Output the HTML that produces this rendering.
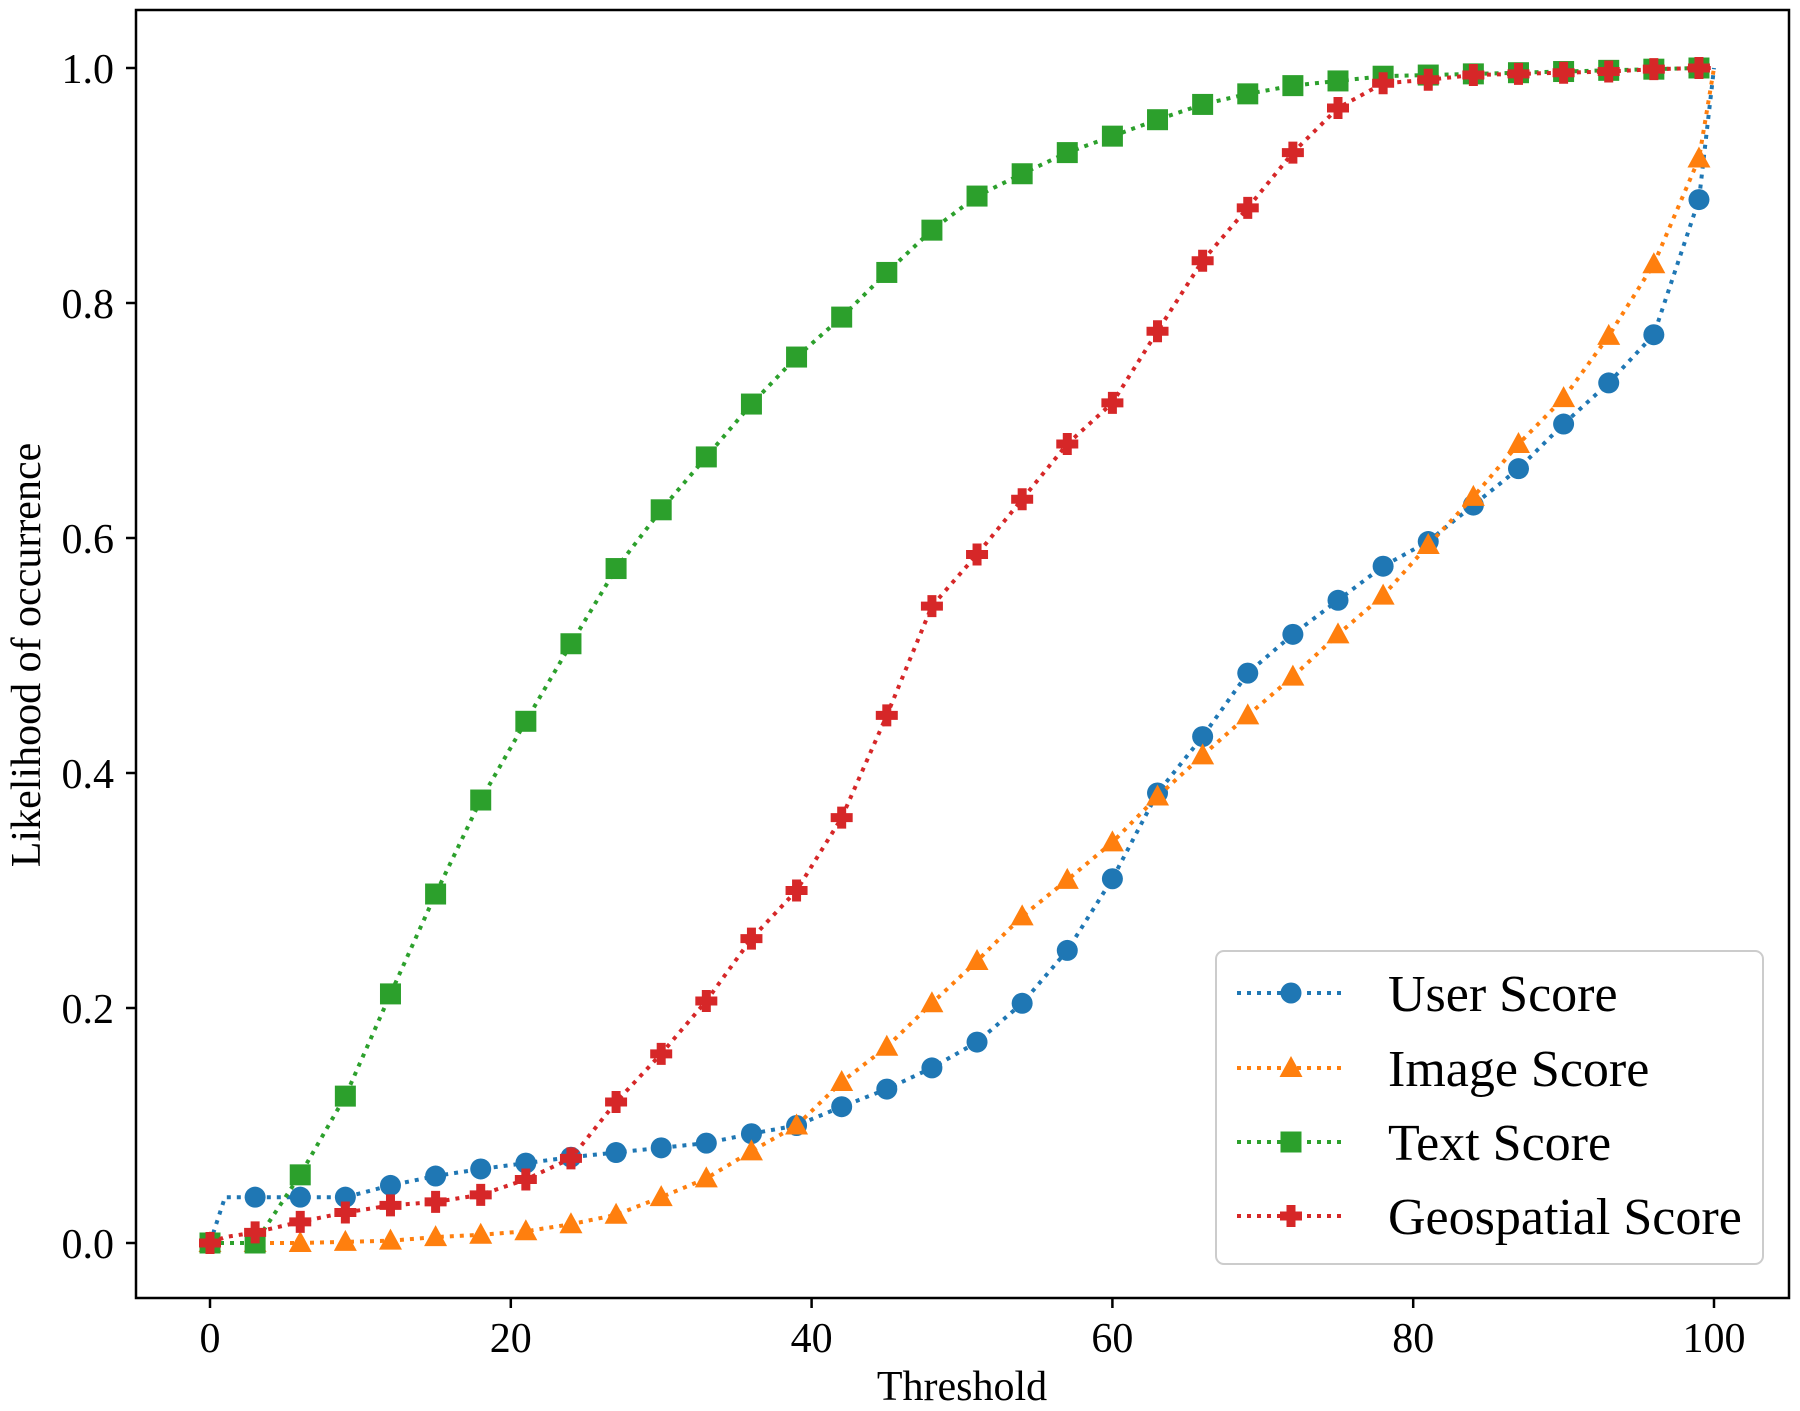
<!DOCTYPE html>
<html><head><meta charset="utf-8"><style>
html,body{margin:0;padding:0;background:#fff;}
svg{display:block;font-family:"Liberation Serif","DejaVu Serif",serif;}
</style></head><body>
<svg id="chart" width="1800" height="1411" viewBox="0 0 1800 1411" xmlns="http://www.w3.org/2000/svg">
<rect x="0" y="0" width="1800" height="1411" fill="#fff"/>
<g id="series"></g>
<rect x="136" y="10" width="1653" height="1288" fill="none" stroke="#000" stroke-width="2.5"/>
<g id="axes"></g>
<text x="962" y="1400" font-size="42" text-anchor="middle">Threshold</text>
<text transform="translate(40,655) rotate(-90)" font-size="42" text-anchor="middle">Likelihood of occurrence</text>
<g id="legend"></g>
</svg>
<script>
const thresholds=[0,1,3,6,9,12,15,18,21,24,27,30,33,36,39,42,45,48,51,54,57,60,63,66,69,72,75,78,81,84,87,90,93,96,99,100];
const userScore=[0,0.039,0.039,0.039,0.039,0.049,0.057,0.063,0.068,0.073,0.077,0.081,0.085,0.093,0.100,0.116,0.131,0.149,0.171,0.204,0.249,0.310,0.383,0.431,0.485,0.518,0.547,0.576,0.597,0.628,0.659,0.697,0.732,0.773,0.888,1.0];
const imageScore=[0,0,0,0,0.001,0.002,0.005,0.007,0.010,0.016,0.024,0.039,0.055,0.078,0.100,0.137,0.167,0.204,0.240,0.278,0.309,0.341,0.380,0.415,0.449,0.482,0.518,0.551,0.594,0.635,0.680,0.719,0.772,0.833,0.923,1.0];
const textScore=[0,0,0,0.058,0.125,0.212,0.297,0.377,0.444,0.510,0.574,0.624,0.669,0.714,0.754,0.788,0.826,0.862,0.891,0.910,0.928,0.942,0.956,0.969,0.978,0.985,0.989,0.993,0.994,0.995,0.996,0.997,0.998,0.999,1.0,1.0];
const geoScore=[0,0.005,0.009,0.018,0.026,0.032,0.035,0.041,0.054,0.072,0.120,0.161,0.206,0.259,0.300,0.362,0.449,0.542,0.586,0.633,0.680,0.715,0.776,0.836,0.881,0.928,0.966,0.987,0.990,0.994,0.995,0.996,0.997,0.999,1.0,1.0];
const xTicks=[0,20,40,60,80,100];
const yTicks=[0,0.2,0.4,0.6,0.8,1.0];
const seriesNames=["User Score","Image Score","Text Score","Geospatial Score"];
const NS="http://www.w3.org/2000/svg";
const X=v=>210+v*15.04;
const Y=v=>1243-v*1175;
function el(tag,attrs,parent){const e=document.createElementNS(NS,tag);for(const k in attrs)e.setAttribute(k,attrs[k]);parent.appendChild(e);return e;}
const axes=document.getElementById('axes');
xTicks.forEach(t=>{
  const l=el('line',{x1:X(t),x2:X(t),y1:1298,y2:1308,stroke:'#000','stroke-width':2.5},axes);
  
  
  const tx=el('text',{x:X(t),y:1352,'font-size':42,'text-anchor':'middle'},axes);
  tx.textContent=String(t);
  
  
});
yTicks.forEach(t=>{
  const l=el('line',{x1:126,x2:136,y1:Y(t),y2:Y(t),stroke:'#000','stroke-width':2.5},axes);
  
  
  const tx=el('text',{x:114,y:Y(t)+15,'font-size':42,'text-anchor':'end'},axes);
  tx.textContent=t.toFixed(1);
  
  
});
const colors=['#1f77b4','#ff7f0e','#2ca02c','#d62728'];
const markers=['circle','triangle','square','plus'];
function marker(g,type,cx,cy,color,s){
  let m;
  if(type==='circle')m=el('circle',{cx:cx,cy:cy,r:10.5*s,fill:color},g);
  else if(type==='triangle')m=el('polygon',{points:`${cx},${cy-12*s} ${cx-11.5*s},${cy+9*s} ${cx+11.5*s},${cy+9*s}`,fill:color},g);
  else if(type==='square')m=el('rect',{x:cx-10.5*s,y:cy-10.5*s,width:21*s,height:21*s,fill:color},g);
  else{const a=4.5*s,b=11*s;m=el('polygon',{points:`${cx-a},${cy-b} ${cx+a},${cy-b} ${cx+a},${cy-a} ${cx+b},${cy-a} ${cx+b},${cy+a} ${cx+a},${cy+a} ${cx+a},${cy+b} ${cx-a},${cy+b} ${cx-a},${cy+a} ${cx-b},${cy+a} ${cx-b},${cy-a} ${cx-a},${cy-a}`,fill:color},g);}
  return m;
}
const sg=document.getElementById('series');
const allSeries=[userScore,imageScore,textScore,geoScore];
const keys=['user','image','text','geospatial'];
allSeries.forEach((vals,i)=>{
  const g=el('g',{},sg);
  
  
  const d=thresholds.map((t,j)=>(j?'L':'M')+X(t).toFixed(1)+','+Y(vals[j]).toFixed(1)).join(' ');
  const p=el('path',{d:d,fill:'none',stroke:colors[i],'stroke-width':4,'stroke-dasharray':'4 6'},g);
  
  
  thresholds.forEach((t,j)=>{
    if(t%3!==0||t===100)return;
    const m=marker(g,markers[i],X(t),Y(vals[j]),colors[i],1);
    
    
  });
});
const lg=document.getElementById('legend');
const box=el('rect',{x:1216,y:951,width:547,height:313,rx:8,fill:'#fff','fill-opacity':0.85,stroke:'#ccc','stroke-width':2},lg);


const ly=[993,1068,1142,1216];
seriesNames.forEach((n,i)=>{
  const g=el('g',{},lg);
  
  
  el('line',{x1:1237,x2:1345,y1:ly[i],y2:ly[i],stroke:colors[i],'stroke-width':4,'stroke-dasharray':'4 6'},g);
  marker(g,markers[i],1291,ly[i],colors[i],1);
  const t=el('text',{x:1388,y:ly[i]+18,'font-size':52},g);
  t.textContent=n;
});
</script>
</body></html>
